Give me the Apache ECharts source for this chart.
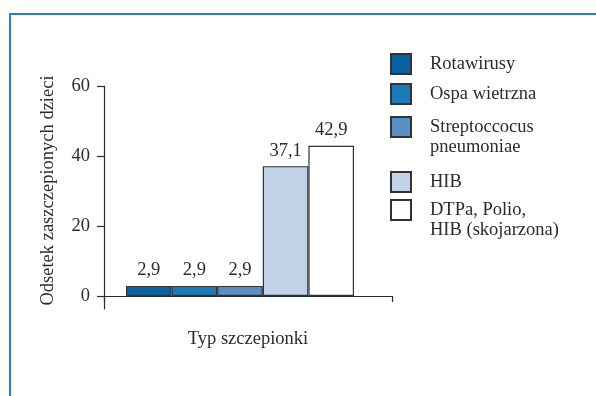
<!DOCTYPE html>
<html>
<head>
<meta charset="utf-8">
<script src="https://cdn.jsdelivr.net/npm/echarts@6/dist/echarts.min.js"></script>
<style>
  html, body { margin: 0; padding: 0; background: #fff; }
  #chart { width: 596px; height: 396px; }
</style>
</head>
<body>
<div id="chart"></div>
<script>
// Vaccine types (legend names) and the share of vaccinated children, %
const vaccines = ['Rotawirusy', 'Ospa wietrzna', 'Streptoccocus\npneumoniae', 'HIB', 'DTPa, Polio,\nHIB (skojarzona)'];
const shares = [2.9, 2.9, 2.9, 37.1, 42.9];
const barColors = ['#0a62a3', '#1a7aba', '#5a8fc6', '#c2d2e9', '#ffffff'];
const yTicks = [0, 20, 40, 60];
const xCategory = ['Typ szczepionki'];

const FONT = 'Liberation Serif';
const FS = 18.5;
const INK = '#2b2b2b';

// legend rows: top offset of each single-item legend block
const legendTops = [53, 83, 97, 171, 180];

const series = vaccines.map((name, i) => ({
  name: name,
  type: 'bar',
  data: [shares[i]],
  barWidth: 45.6,
  barGap: '0%',
  itemStyle: { color: barColors[i], borderColor: '#333', borderWidth: 1.2 },
  label: {
    show: true,
    position: 'top',
    distance: 6,
    fontFamily: FONT,
    fontSize: FS,
    color: INK,
    formatter: p => String(p.value).replace('.', ',')
  }
}));
// empty slot after the last bar, keeps the group left of the axis centre
series.push({
  name: 'spacer',
  type: 'bar',
  data: ['-'],
  barWidth: 16,
  barGap: '0%',
  silent: true
});

const legends = vaccines.map((name, i) => ({
  data: [name],
  left: 390,
  top: legendTops[i],
  padding: 0,
  orient: 'vertical',
  itemWidth: 20,
  itemHeight: 20,
  selectedMode: false,
  icon: 'rect',
  formatter: n => (n.indexOf('\n') >= 0 ? '\n' + n : n),
  textStyle: {
    fontFamily: FONT,
    fontSize: FS,
    color: INK,
    lineHeight: 20,
    padding: [0, 0, 0, 14]
  }
}));

const chart = echarts.init(document.getElementById('chart'), null, { renderer: 'canvas' });
chart.setOption({
  animation: false,
  backgroundColor: '#fff',
  textStyle: { fontFamily: FONT },
  grid: { left: 104, right: 204, top: 86, bottom: 87, containLabel: false },
  xAxis: {
    type: 'category',
    data: xCategory,
    name: 'Typ szczepionki',
    nameLocation: 'middle',
    nameGap: 21,
    nameTextStyle: { fontFamily: FONT, fontSize: FS, color: INK },
    axisLine: { onZero: true, lineStyle: { color: INK, width: 1.2 } },
    axisTick: { show: true, length: 6, lineStyle: { color: INK, width: 1.2 } },
    axisLabel: { show: false }
  },
  yAxis: {
    type: 'value',
    min: -3.7,
    max: 60,
    name: 'Odsetek zaszczepionych dzieci',
    nameLocation: 'middle',
    nameRotate: 90,
    nameGap: 46,
    nameTextStyle: { fontFamily: FONT, fontSize: FS, color: INK, padding: [0, 0, 0, 14] },
    splitLine: { show: false },
    axisLine: { show: true, lineStyle: { color: INK, width: 1.2 } },
    axisTick: { show: true, length: 7, customValues: yTicks, lineStyle: { color: INK, width: 1.2 } },
    axisLabel: { customValues: yTicks, margin: 14, fontFamily: FONT, fontSize: FS, color: INK }
  },
  legend: legends,
  graphic: [
    {
      type: 'polyline',
      shape: { points: [[10, 396], [10, 14], [596, 14]] },
      style: { stroke: '#2a7fc0', lineWidth: 2, fill: null },
      silent: true
    }
  ],
  series: series
});
</script>
</body>
</html>
